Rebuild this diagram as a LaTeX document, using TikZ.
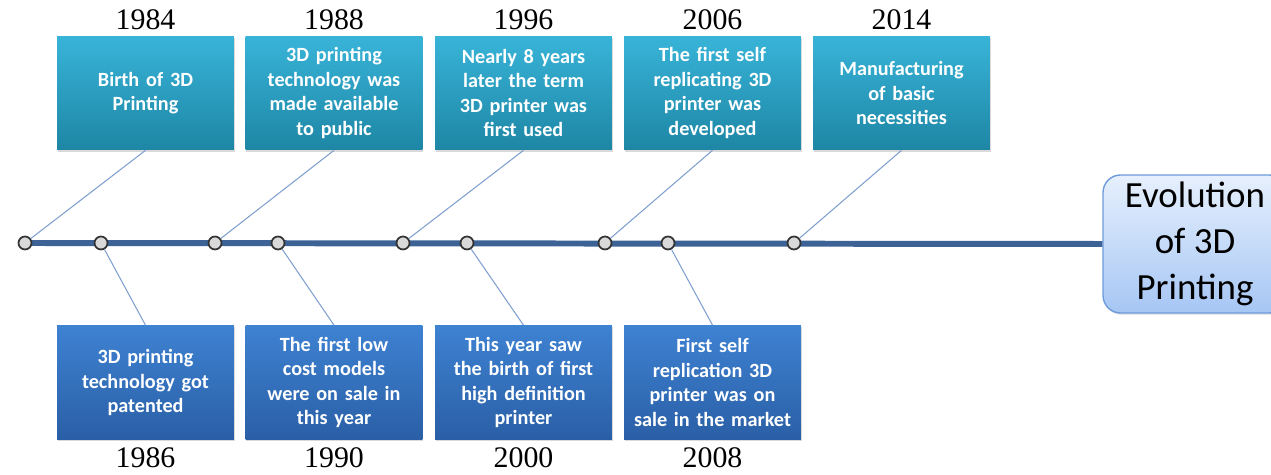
\documentclass[tikz,border=0pt]{standalone}
\usepackage{fontspec}
\setmainfont{Carlito}
\newfontfamily\yearfont{Liberation Serif}
\usetikzlibrary{positioning, shadows}

\definecolor{topA}{HTML}{38B4D8}
\definecolor{topB}{HTML}{1E86A5}
\definecolor{botA}{HTML}{3E82D2}
\definecolor{botB}{HTML}{2A5FA6}
\definecolor{axis}{HTML}{3C6296}
\definecolor{evoA}{HTML}{E6F0FD}
\definecolor{evoB}{HTML}{A6C6F4}
\definecolor{evoEdge}{HTML}{6E9BDB}
\definecolor{conn}{HTML}{7F9FCF}

\begin{document}
\begin{tikzpicture}[x=0.02cm, y=-0.02cm,
  upbox/.style={rectangle, minimum width=3.54cm, minimum height=2.28cm,
    text width=3.2cm, align=center, top color=topA, bottom color=topB,
    text=white, font=\bfseries\fontsize{11.5}{14}\selectfont,
    drop shadow={opacity=0.3, shadow xshift=0.5pt, shadow yshift=-1pt}},
  downbox/.style={upbox, top color=botA, bottom color=botB},
  year/.style={font=\yearfont\fontsize{17}{19}\selectfont, inner sep=1pt},
  dot/.style={circle, draw=black!80, fill=gray!30, line width=1pt,
    inner sep=0pt, minimum size=0.26cm},
  link/.style={draw=conn, line width=0.6pt}]

\useasboundingbox (0,0) rectangle (1271,475);

% title box on the right
\node[rectangle, rounded corners=0.35cm, draw=evoEdge, line width=0.8pt,
  top color=evoA, bottom color=evoB, minimum width=3.68cm, minimum height=2.76cm,
  align=center, font=\fontsize{21}{26}\selectfont,
  drop shadow={opacity=0.25, shadow xshift=0.5pt, shadow yshift=-1pt}]
  (evo) at (1195,244) {Evolution\\of 3D\\Printing};

% main axis
\coordinate (start) at (25,243);
\draw[axis, line width=3.4pt] (start) -- (evo.west);

% events above the axis
\node[upbox] (b84) at (145.5,93) {Birth of 3D\\Printing};
\node[upbox] (b88) at (334,93) {3D printing\\technology was\\made available\\to public};
\node[upbox] (b96) at (523.5,93) {Nearly 8 years\\later the term\\3D printer was\\first used};
\node[upbox] (b06) at (712.5,93) {The first self\\replicating 3D\\printer was\\developed};
\node[upbox] (b14) at (901.5,93) {Manufacturing\\of basic\\necessities};

% events below the axis
\node[downbox] (b86) at (145.5,382.5) {3D printing\\technology got\\patented};
\node[downbox] (b90) at (334,382.5) {The first low\\cost models\\were on sale in\\this year};
\node[downbox] (b00) at (523.5,382.5) {This year saw\\the birth of first\\high definition\\printer};
\node[downbox] (b08) at (712.5,382.5) {First self\\replication 3D\\printer was on\\sale in the market};

% years
\node[year] (y84) at (145.5,20) {1984};
\node[year] (y88) at (334,20) {1988};
\node[year] (y96) at (523.5,20) {1996};
\node[year] (y06) at (712.5,20) {2006};
\node[year] (y14) at (901.5,20) {2014};
\node[year] (y86) at (145.5,458) {1986};
\node[year] (y90) at (334,458) {1990};
\node[year] (y00) at (523.5,458) {2000};
\node[year] (y08) at (712.5,458) {2008};

% dots on the axis
\node[dot] (d84) at (25,243) {};
\node[dot] (d86) at (101,243) {};
\node[dot] (d88) at (215,243) {};
\node[dot] (d90) at (278,243) {};
\node[dot] (d96) at (403,243) {};
\node[dot] (d00) at (467,243) {};
\node[dot] (d06) at (605,243) {};
\node[dot] (d08) at (668,243) {};
\node[dot] (d14) at (794,243) {};

% connectors
\draw[link] (d84) -- (b84.south);
\draw[link] (d88) -- (b88.south);
\draw[link] (d96) -- (b96.south);
\draw[link] (d06) -- (b06.south);
\draw[link] (d14) -- (b14.south);
\draw[link] (d86) -- (b86.north);
\draw[link] (d90) -- (b90.north);
\draw[link] (d00) -- (b00.north);
\draw[link] (d08) -- (b08.north);
\end{tikzpicture}
\end{document}
